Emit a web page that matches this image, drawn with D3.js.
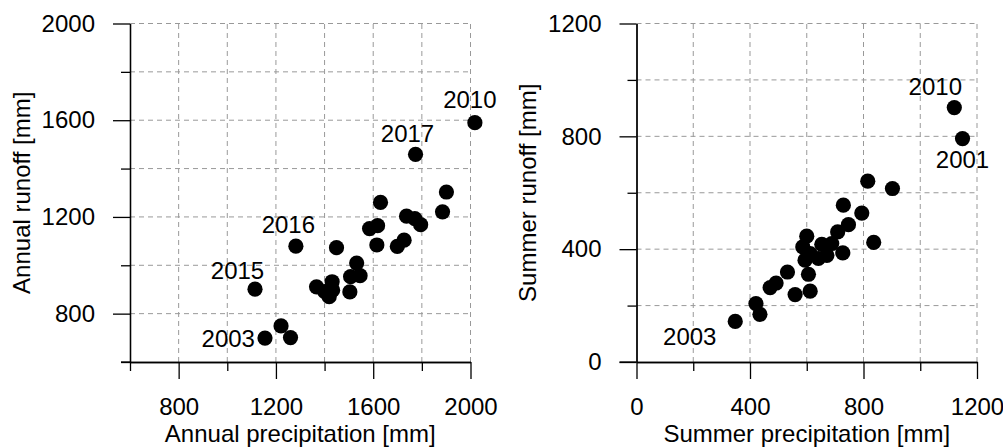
<!DOCTYPE html>
<html>
<head>
<meta charset="utf-8">
<script src="https://cdn.jsdelivr.net/npm/d3@7"></script>
<style>
  html, body { margin: 0; padding: 0; background: #fff; }
  svg { display: block; }
  text { font-family: "Liberation Sans", Arial, sans-serif; fill: #000; }
</style>
</head>
<body>
<svg id="chart" width="1003" height="447"></svg>
<script>
// ---------------- DATA ----------------
const annualPrecip = [2018, 1774, 1901, 1885, 1630, 1737, 1771, 1795, 1585, 1618, 1615, 1699, 1727, 1282, 1449, 1532, 1507, 1546, 1504, 1114, 1367, 1431, 1401, 1419, 1433, 1155, 1221, 1260];
const annualRunoff = [1590, 1459, 1303, 1221, 1260, 1203, 1193, 1168, 1152, 1164, 1084, 1078, 1104, 1079, 1073, 1009, 953, 957, 890, 901, 911, 932, 891, 870, 897, 699, 749, 701];
const annualLabels = ["2010", "2017", "", "", "", "", "", "", "", "", "", "", "", "2016", "", "", "", "", "", "2015", "", "", "", "", "", "2003", "", ""];

const summerPrecip = [1120, 1149, 815, 902, 729, 794, 747, 709, 836, 600, 586, 653, 688, 727, 671, 641, 594, 612, 606, 532, 492, 471, 559, 612, 421, 435, 348];
const summerRunoff = [902, 792, 641, 615, 556, 528, 487, 461, 424, 446, 408, 417, 420, 387, 378, 367, 361, 384, 311, 319, 280, 264, 239, 251, 207, 169, 144];
const summerLabels = ["2010", "2001", "", "", "", "", "", "", "", "", "", "", "", "", "", "", "", "", "", "", "", "", "", "", "", "", "2003"];

const annualMajorTicks = [800, 1200, 1600, 2000];
const annualMinorTicks = [600, 1000, 1400, 1800];
const annualGrid = [800, 1000, 1200, 1400, 1600, 1800, 2000];

const summerMajorTicks = [0, 400, 800, 1200];
const summerMinorTicks = [200, 600, 1000];
const summerGrid = [200, 400, 600, 800, 1000, 1200];

// ---------------- DRAW ----------------
const svg = d3.select("#chart");
const FONT = 24;

function panel(opts) {
  const g = svg.append("g");
  const x = d3.scaleLinear().domain(opts.xDomain).range([opts.left, opts.left + 340.5]);
  const y = d3.scaleLinear().domain(opts.yDomain).range([362, 23.5]);

  // grid
  const grid = g.append("g").attr("stroke", "#999").attr("stroke-width", 1).attr("stroke-dasharray", "5,4").attr("fill", "none");
  grid.selectAll("line.v").data(opts.grid).join("line").attr("class", "v")
    .attr("x1", d => x(d)).attr("x2", d => x(d)).attr("y1", y.range()[0]).attr("y2", y.range()[1]);
  grid.selectAll("line.h").data(opts.grid).join("line").attr("class", "h")
    .attr("y1", d => y(d)).attr("y2", d => y(d)).attr("x1", x.range()[0]).attr("x2", x.range()[1]);

  // axes: major (labeled, long) and minor (short, unlabeled)
  const styleAxis = sel => {
    sel.selectAll("path, line").attr("stroke", "#000").attr("stroke-width", 1.3);
    sel.selectAll("text").attr("font-size", FONT).attr("font-family", '"Liberation Sans", Arial, sans-serif').attr("fill", "#000");
  };
  const yb = y.range()[0];
  g.append("g").attr("transform", `translate(0,${yb})`)
    .call(d3.axisBottom(x).tickValues(opts.major).tickSize(17).tickSizeOuter(0).tickPadding(18.5).tickFormat(d3.format("d")))
    .call(styleAxis);
  g.append("g").attr("transform", `translate(0,${yb})`)
    .call(d3.axisBottom(x).tickValues(opts.minor).tickSize(9).tickSizeOuter(0).tickFormat(""))
    .call(styleAxis);
  g.append("g").attr("transform", `translate(${x.range()[0]},0)`)
    .call(d3.axisLeft(y).tickValues(opts.major).tickSize(17).tickSizeOuter(0).tickPadding(18).tickFormat(d3.format("d")))
    .call(styleAxis);
  g.append("g").attr("transform", `translate(${x.range()[0]},0)`)
    .call(d3.axisLeft(y).tickValues(opts.minor).tickSize(9).tickSizeOuter(0).tickFormat(""))
    .call(styleAxis);
  // extend x-axis line leftwards (outer tick at the axis origin)
  g.append("line").attr("x1", x.range()[0] - (opts.originMajor ? 17 : 9)).attr("x2", x.range()[0])
    .attr("y1", yb).attr("y2", yb).attr("stroke", "#000").attr("stroke-width", 1.3);

  // axis titles
  g.append("text").attr("x", (x.range()[0] + x.range()[1]) / 2).attr("y", 441.8)
    .attr("text-anchor", "middle").attr("font-size", FONT).text(opts.xTitle);
  g.append("text").attr("transform", `translate(${opts.yTitleX},${(y.range()[0] + y.range()[1]) / 2}) rotate(-90)`)
    .attr("text-anchor", "middle").attr("font-size", FONT).text(opts.yTitle);

  // points
  const pts = opts.xs.map((v, i) => ({ x: v, y: opts.ys[i], label: opts.labels[i] }));
  g.append("g").selectAll("circle").data(pts).join("circle")
    .attr("cx", d => x(d.x)).attr("cy", d => y(d.y)).attr("r", 7.6).attr("fill", "#000");

  // annotations
  g.append("g").selectAll("text").data(pts.filter(d => d.label)).join("text")
    .attr("x", d => x(d.x) + opts.labelPlace[d.label][0])
    .attr("y", d => y(d.y) + opts.labelPlace[d.label][1])
    .attr("text-anchor", d => opts.labelPlace[d.label][2])
    .attr("font-size", FONT)
    .text(d => d.label);
}

panel({
  xDomain: [600, 2000], yDomain: [600, 2000], left: 130,
  xs: annualPrecip, ys: annualRunoff, labels: annualLabels,
  major: annualMajorTicks, minor: annualMinorTicks, grid: annualGrid,
  originMajor: false,
  xTitle: "Annual precipitation [mm]", yTitle: "Annual runoff [mm]", yTitleX: 30,
  labelPlace: { "2010": [-5, -15, "middle"], "2017": [-8, -12, "middle"], "2016": [-7.5, -13, "middle"],
                "2015": [-17.5, -10, "middle"], "2003": [-10, 8.5, "end"] }
});

panel({
  xDomain: [0, 1200], yDomain: [0, 1200], left: 636.5,
  xs: summerPrecip, ys: summerRunoff, labels: summerLabels,
  major: summerMajorTicks, minor: summerMinorTicks, grid: summerGrid,
  originMajor: true,
  xTitle: "Summer precipitation [mm]", yTitle: "Summer runoff [mm]", yTitleX: 536,
  labelPlace: { "2010": [-19, -12.5, "middle"], "2001": [0, 29.5, "middle"], "2003": [-45.5, 23.5, "middle"] }
});
</script>
</body>
</html>
